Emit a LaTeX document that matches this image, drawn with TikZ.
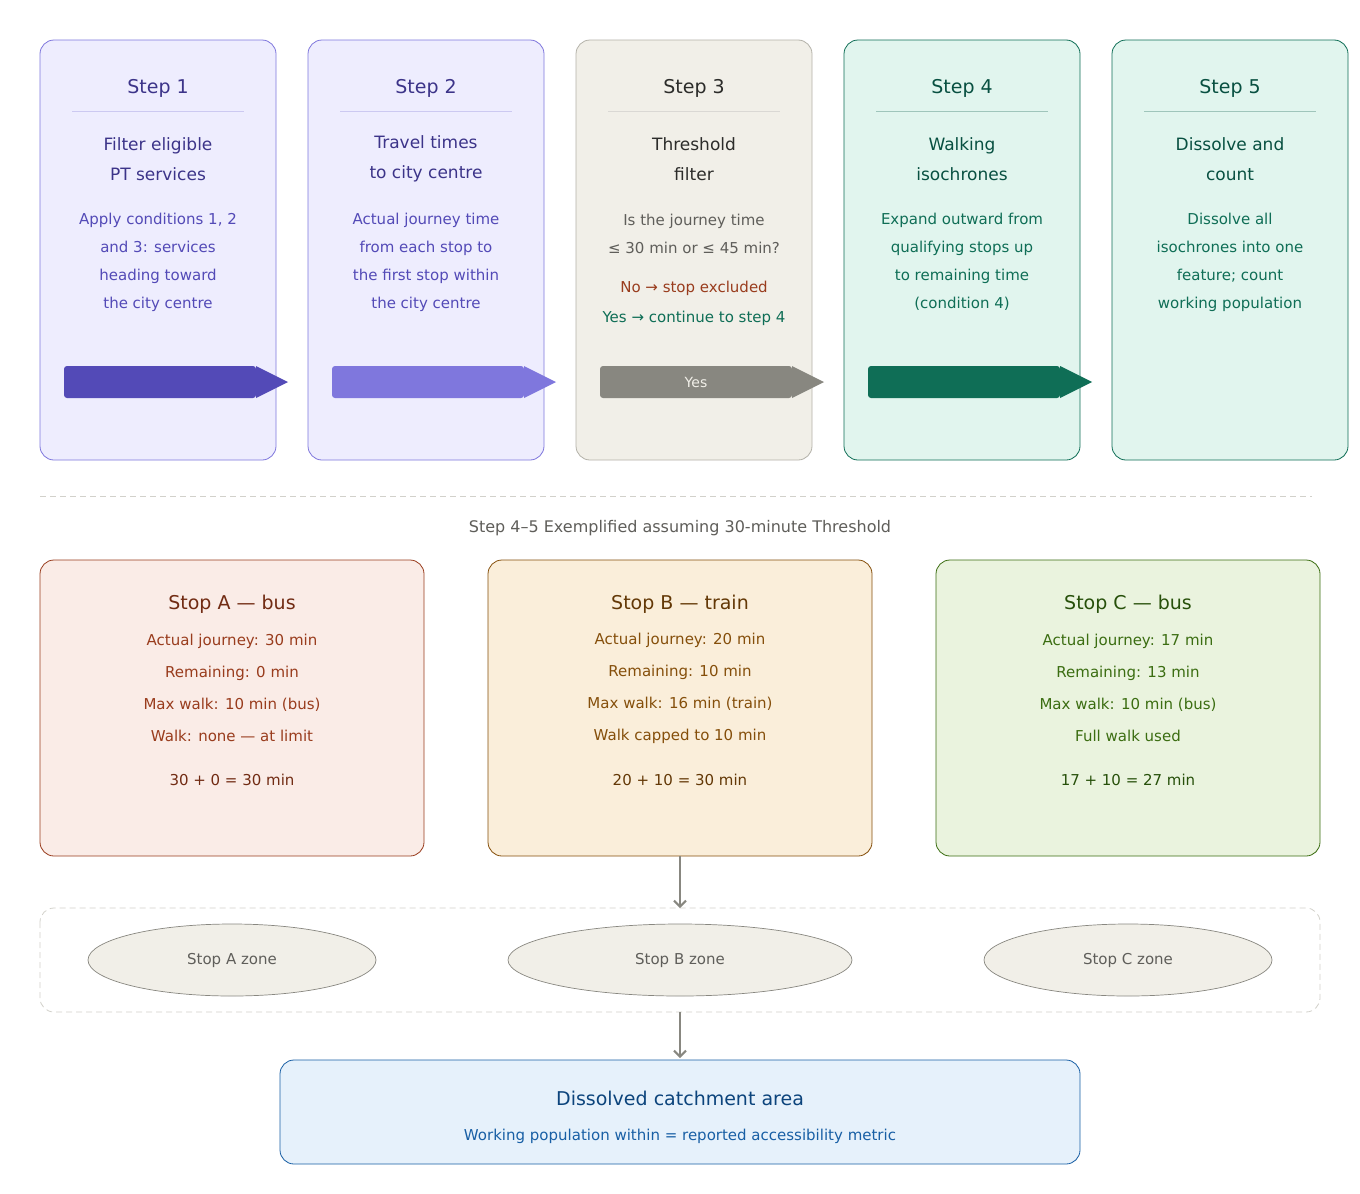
\documentclass[tikz,border=0pt]{standalone}
\usepackage{fontspec}
\setmainfont{DejaVu Sans}
\usetikzlibrary{arrows.meta}
\definecolor{pf}{HTML}{EEEDFE}\definecolor{pb}{HTML}{7F77DD}\definecolor{pt}{HTML}{3C3489}\definecolor{px}{HTML}{534AB7}
\definecolor{gf}{HTML}{F1EFE8}\definecolor{gb}{HTML}{B4B2A9}\definecolor{gt}{HTML}{2C2C2A}\definecolor{gx}{HTML}{5F5E5A}\definecolor{gbar}{HTML}{888780}
\definecolor{tf}{HTML}{E1F5EE}\definecolor{tb}{HTML}{0F6E56}\definecolor{tt}{HTML}{085041}
\definecolor{af}{HTML}{FAECE7}\definecolor{ab}{HTML}{993C1D}\definecolor{at}{HTML}{712B13}
\definecolor{bf}{HTML}{FAEEDA}\definecolor{bb}{HTML}{854F0B}\definecolor{bt}{HTML}{633806}
\definecolor{cf}{HTML}{EAF3DE}\definecolor{cb}{HTML}{3B6D11}\definecolor{ct}{HTML}{27500A}
\definecolor{df}{HTML}{E6F1FB}\definecolor{db}{HTML}{185FA5}\definecolor{dt}{HTML}{0C447C}
\begin{document}
\begin{tikzpicture}[x=1pt,y=-1pt,
  box/.style={rounded corners=14pt,line width=0.8pt},
  ttl/.style={font=\fontsize{19}{22}\selectfont,anchor=center},
  txt/.style={font=\fontsize{15}{28}\selectfont,align=center,anchor=center},
  txs/.style={font=\fontsize{15}{32}\selectfont,align=center,anchor=center}]
\useasboundingbox (0,0) rectangle (1360,1194);
\fill[white] (0,0) rectangle (1360,1194);
% steps
\foreach \i/\f/\b/\t/\x/\bar/\ti/\sa/\de in {
 0/pf/pb/pt/px/px/Step 1/{Filter eligible\\PT services}/{Apply conditions 1, 2\\and 3: services\\heading toward\\the city centre},
 1/pf/pb/pt/px/pb/Step 2/{Travel times\\to city centre}/{Actual journey time\\from each stop to\\the first stop within\\the city centre},
 3/tf/tb/tt/tb/tb/Step 4/{Walking\\isochrones}/{Expand outward from\\qualifying stops up\\to remaining time\\(condition 4)},
 4/tf/tb/tt/tb/none/Step 5/{Dissolve and\\count}/{Dissolve all\\isochrones into one\\feature; count\\working population}}{
  \pgfmathsetmacro\L{40+268*\i}
  \draw[box,fill=\f,draw=\b] (\L,40) rectangle ++(236,420);
  \node[ttl,text=\t] (st\i) at (\L+118,88) {\ti};
  \draw[\b!40,line width=0.8pt] (\L+32,111) -- (\L+204,111);
  \node[font=\fontsize{17}{30}\selectfont,align=center,text=\t] (sa\i) at (\L+118,159) {\sa};
  \node[txt,text=\x] (de\i) at (\L+118,262) {\de};
  \ifx\bar\nonebar\else\fi
}
\def\arrowbar#1#2#3{\fill[#2,rounded corners=3pt] (#1+24,366) rectangle (#1+216,398);
  \fill[#2] (#1+216,366) -- (#1+248,382) -- (#1+216,398) -- cycle;
  \node[font=\fontsize{14}{16}\selectfont,text=gf] (#3) at (#1+120,382) {};}
\arrowbar{40}{px}{b1}\arrowbar{308}{pb}{b2}\arrowbar{844}{tb}{b4}
% step 3
\draw[box,fill=gf,draw=gb] (576,40) rectangle ++(236,420);
\node[ttl,text=gt] (st2) at (694,88) {Step 3};
\draw[gb!50,line width=0.8pt] (608,111) -- (780,111);
\node[font=\fontsize{17}{30}\selectfont,align=center,text=gt] (sa2) at (694,159) {Threshold\\filter};
\node[txt,text=gx] (de2) at (694,234) {Is the journey time\\≤ 30 min or ≤ 45 min?};
\node[txs,text=ab] (no) at (694,288) {No → stop excluded};
\node[txs,text=tb] (yes) at (694,318) {Yes → continue to step 4};
\fill[gbar,rounded corners=3pt] (600,366) rectangle (792,398);
\fill[gbar] (792,366) -- (824,382) -- (792,398) -- cycle;
\node[font=\fontsize{14}{16}\selectfont,text=gf] (b3) at (696,382) {Yes};
% divider
\draw[gb!60,dashed,dash pattern=on 6pt off 4pt,line width=0.8pt] (40,496) -- (1312,496);
\node[font=\fontsize{16}{20}\selectfont,text=gx] (cap) at (680,528) {Step 4–5 Exemplified assuming 30-minute Threshold};
% stops
\foreach \L/\f/\b/\t/\ti/\a/\r/\m/\w/\fo/\n in {
 40/af/ab/at/Stop A — bus/30/0/10 min (bus)/Walk: none — at limit/30 + 0 = 30 min/A,
 488/bf/bb/bt/Stop B — train/20/10/16 min (train)/Walk capped to 10 min/20 + 10 = 30 min/B,
 936/cf/cb/ct/Stop C — bus/17/13/10 min (bus)/Full walk used/17 + 10 = 27 min/C}{
  \draw[box,fill=\f,draw=\b] (\L,560) rectangle ++(384,296);
  \node[ttl,text=\t] (t\n) at (\L+192,604) {\ti};
  \node[font=\fontsize{15}{32}\selectfont,align=center,text=\b] (l\n) at (\L+192,688) {Actual journey: \a\ min\\Remaining: \r\ min\\Max walk: \m\\\w};
  \node[font=\fontsize{15}{18}\selectfont,text=\t] (f\n) at (\L+192,780) {\fo};
}
\coordinate (sB) at (680,856);
% zones
\draw[gb!60,dashed,dash pattern=on 6pt off 4pt,rounded corners=14pt,line width=0.8pt] (40,908) rectangle (1320,1012);
\coordinate (zt) at (680,908);\coordinate (zb) at (680,1012);
\foreach \c/\rx/\n in {232/144/A,680/172/B,1128/144/C}{
  \draw[fill=gf,draw=gbar,line width=0.7pt] (\c,960) ellipse [x radius=\rx,y radius=36];
  \node[font=\fontsize{15}{18}\selectfont,text=gx] (z\n) at (\c,960) {Stop \n\ zone};
}
\draw[box,fill=df,draw=db] (280,1060) rectangle (1080,1164);
\node[font=\fontsize{19}{22}\selectfont,text=dt] (fin) at (680,1098) {Dissolved catchment area};
\node[font=\fontsize{15}{18}\selectfont,text=db] (fin2) at (680,1136) {Working population within = reported accessibility metric};
\coordinate (ft) at (680,1058);
\draw[gbar,line width=2pt,-{Straight Barb[length=6pt,width=12pt]}] (sB) -- (zt);
\draw[gbar,line width=2pt,-{Straight Barb[length=6pt,width=12pt]}] (zb) -- (ft);
\end{tikzpicture}
\end{document}
